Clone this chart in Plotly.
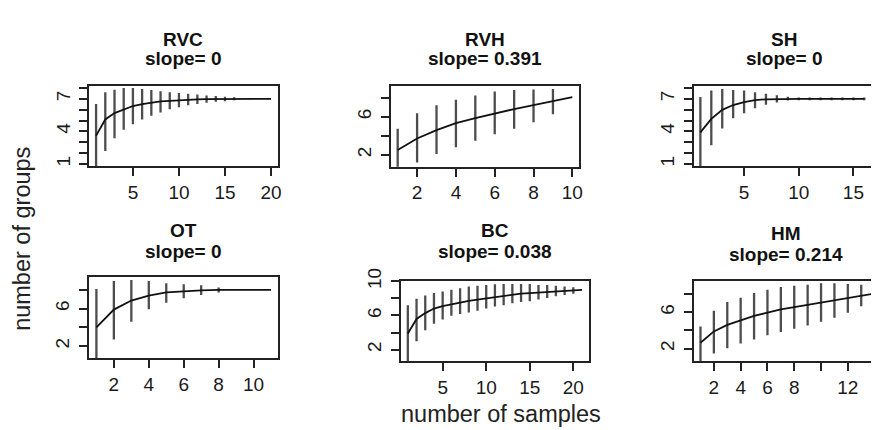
import plotly.graph_objects as go

# ---------------- data ----------------
panel_names = ["RVC", "RVH", "SH", "OT", "BC", "HM"]
slopes = ["0", "0.391", "0", "0", "0.038", "0.214"]

rvc_mean = [3.61, 5.1, 5.69, 6.04, 6.34, 6.52, 6.67, 6.76, 6.82, 6.88, 6.93, 6.96, 6.98, 6.99, 7.0, 7.0, 7.0, 7.0, 7.0, 7.0]
rvc_upper = [6.52, 7.62, 7.85, 8.0, 8.0, 7.91, 7.82, 7.71, 7.62, 7.53, 7.47, 7.41, 7.32, 7.26, 7.2, 7.14, 7.0, 7.0, 7.0, 7.0]
rvc_lower = [0.7, 2.19, 3.37, 4.15, 4.65, 5.09, 5.45, 5.75, 6.04, 6.22, 6.4, 6.52, 6.64, 6.73, 6.79, 6.88, 7.0, 7.0, 7.0, 7.0]

rvh_mean = [2.51, 3.71, 4.59, 5.34, 5.86, 6.37, 6.81, 7.22, 7.63, 8.08]
rvh_upper = [4.73, 6.37, 7.22, 7.8, 8.25, 8.66, 8.83, 8.86, 8.93, 8.08]
rvh_lower = [0.29, 1.18, 2.07, 2.78, 3.47, 4.15, 4.73, 5.41, 6.27, 8.08]

sh_mean = [3.91, 5.15, 5.99, 6.43, 6.7, 6.88, 6.96, 6.99, 7.0, 7.0, 7.0, 7.0, 7.0, 7.0, 7.0, 7.0]
sh_upper = [7.17, 7.76, 7.91, 7.82, 7.76, 7.62, 7.48, 7.34, 7.2, 7.12, 7.12, 7.12, 7.12, 7.12, 7.12, 7.12]
sh_lower = [0.65, 2.72, 4.26, 5.21, 5.68, 6.13, 6.45, 6.66, 6.85, 6.88, 6.88, 6.88, 6.88, 6.88, 6.88, 6.88]

ot_mean = [3.98, 5.89, 6.86, 7.38, 7.73, 7.87, 7.94, 8.0, 8.0, 8.0, 8.0]
ot_upper = [8.08, 8.94, 9.05, 8.94, 8.7, 8.6, 8.49, 8.25, 8.0, 8.0, 8.0]
ot_lower = [-0.12, 2.69, 4.6, 5.92, 6.62, 7.1, 7.45, 7.73, 8.0, 8.0, 8.0]

bc_mean = [3.89, 5.6, 6.28, 6.81, 7.11, 7.34, 7.56, 7.71, 7.87, 8.02, 8.17, 8.32, 8.44, 8.55, 8.63, 8.7, 8.78, 8.85, 8.89, 8.93, 9.0]
bc_upper = [7.19, 7.95, 8.33, 8.63, 8.82, 9.01, 9.2, 9.39, 9.47, 9.58, 9.66, 9.69, 9.69, 9.69, 9.69, 9.58, 9.58, 9.47, 9.39, 9.31, 9.0]
bc_lower = [0.59, 2.99, 4.27, 5.03, 5.52, 5.98, 6.17, 6.36, 6.55, 6.81, 7.04, 7.19, 7.42, 7.57, 7.68, 7.87, 8.06, 8.25, 8.4, 8.55, 9.0]

hm_mean = [2.64, 3.89, 4.61, 5.14, 5.61, 5.96, 6.32, 6.57, 6.82, 7.11, 7.39, 7.61, 7.82, 8.07]
hm_upper = [4.43, 6.18, 7.14, 7.61, 8.14, 8.5, 8.79, 8.93, 9.04, 9.21, 9.21, 9.14, 9.04, 8.07]
hm_lower = [0.5, 1.46, 2.04, 2.54, 3.0, 3.46, 3.82, 4.18, 4.54, 4.96, 5.39, 5.96, 6.68, 8.07]

means = [rvc_mean, rvh_mean, sh_mean, ot_mean, bc_mean, hm_mean]
uppers = [rvc_upper, rvh_upper, sh_upper, ot_upper, bc_upper, hm_upper]
lowers = [rvc_lower, rvh_lower, sh_lower, ot_lower, bc_lower, hm_lower]

x_tickvals = [[5, 10, 15, 20], [2, 4, 6, 8, 10], [5, 10, 15], [2, 4, 6, 8, 10], [5, 10, 15, 20], [2, 4, 6, 8, 10, 12, 14]]
x_ticktext = [["5", "10", "15", "20"], ["2", "4", "6", "8", "10"], ["5", "10", "15"], ["2", "4", "6", "8", "10"],
              ["5", "10", "15", "20"], ["2", "4", "6", "8", "", "12", "14"]]
y_tickvals = [[1, 2, 3, 4, 5, 6, 7, 8], [2, 4, 6, 8], [1, 2, 3, 4, 5, 6, 7, 8], [2, 4, 6, 8], [2, 4, 6, 8, 10], [2, 4, 6, 8]]
y_ticktext = [["1", "", "", "4", "", "", "7", ""], ["2", "", "6", ""], ["1", "", "", "4", "", "", "7", ""],
              ["2", "", "6", ""], ["2", "", "6", "", "10"], ["2", "", "6", ""]]

# ---------------- layout (pixel boxes) ----------------
W, H = 875, 430
boxes = [  # left, right, top, bottom in px
    (89.5, 279.3, 75, 158),
    (392.5, 582, 75, 158.5),
    (697, 875, 75, 158),
    (89.3, 279.3, 272, 355.7),
    (402.7, 591.7, 276, 359.3),
    (696.7, 875, 276, 359.3),
]
cut_right = [False, False, True, False, False, True]
x_ranges = [[0.24, 20.76], [0.64, 10.36], [0.4, 16.61], [0.57, 11.4], [0.2, 21.8], [0.48, 13.73]]
y_ranges = [[0.79, 8.21], [0.74, 9.27], [0.79, 8.21], [0.72, 9.4], [0.62, 10.08], [0.57, 9.5]]
title_x = [184, 487, 788, 184, 497, 790]
name_y = [27, 27, 27, 224, 224, 227]
slope_y = [47, 47, 47, 246, 246, 249]

FONT = "Liberation Sans, Arial, sans-serif"
TICKF = dict(size=19, family=FONT, color="#1a1a1a")
fig = go.Figure()
layout = dict(width=W, height=H, margin=dict(l=0, r=0, t=0, b=0),
              paper_bgcolor="white", plot_bgcolor="white", showlegend=False,
              font=dict(family=FONT, color="#1a1a1a"))
annotations = []

for i in range(6):
    n = len(means[i])
    xs = list(range(1, n + 1))
    sfx = "" if i == 0 else str(i + 1)
    bx, by = [], []
    for x, lo, hi in zip(xs, lowers[i], uppers[i]):
        if hi - lo > 1e-9:
            bx += [x, x, None]
            by += [lo, hi, None]
    fig.add_trace(go.Scatter(x=bx, y=by, mode="lines", line=dict(color="#4d4d4d", width=2.3),
                             xaxis="x" + sfx, yaxis="y" + sfx, hoverinfo="skip"))
    fig.add_trace(go.Scatter(x=xs, y=means[i], mode="lines", line=dict(color="#111111", width=1.8),
                             xaxis="x" + sfx, yaxis="y" + sfx))
    l, r, t, b = boxes[i]
    layout["xaxis" + sfx] = dict(domain=[l / W, r / W], anchor="y" + sfx, range=x_ranges[i],
                                 tickvals=x_tickvals[i], ticktext=x_ticktext[i], ticks="outside",
                                 ticklen=8, tickwidth=1.6, tickcolor="#222", showgrid=False,
                                 zeroline=False, showline=True, mirror=True, linecolor="#222",
                                 linewidth=1.6, tickfont=TICKF)
    layout["yaxis" + sfx] = dict(domain=[1 - b / H, 1 - t / H], anchor="x" + sfx, range=y_ranges[i],
                                 tickvals=y_tickvals[i], ticktext=y_ticktext[i], ticks="outside",
                                 ticklen=8, tickwidth=1.6, tickcolor="#222", showgrid=False,
                                 zeroline=False, showline=True, mirror=not cut_right[i], linecolor="#222",
                                 linewidth=1.6, tickangle=-90, ticklabelstandoff=2, tickfont=TICKF)
    annotations.append(dict(x=title_x[i] / W, y=1 - name_y[i] / H, xref="paper", yref="paper",
                            text="<b>%s</b>" % panel_names[i],
                            showarrow=False, xanchor="center", yanchor="middle",
                            font=dict(size=19, family=FONT, color="#111")))
    annotations.append(dict(x=title_x[i] / W, y=1 - slope_y[i] / H, xref="paper", yref="paper",
                            text="<b>slope= %s</b>" % slopes[i],
                            showarrow=False, xanchor="center", yanchor="middle",
                            font=dict(size=19, family=FONT, color="#111")))

annotations.append(dict(x=503 / W, y=1 - 413 / H, xref="paper", yref="paper", text="number of samples",
                        showarrow=False, xanchor="center", yanchor="middle",
                        font=dict(size=23.5, family=FONT, color="#222")))
annotations.append(dict(x=22 / W, y=1 - 233 / H, xref="paper", yref="paper", text="number of groups",
                        showarrow=False, xanchor="center", yanchor="middle", textangle=-90,
                        font=dict(size=23.5, family=FONT, color="#222")))
layout["annotations"] = annotations
fig.update_layout(**layout)
fig.write_html("out.html", post_script="document.body.style.margin='0px';document.body.style.padding='0px';")
